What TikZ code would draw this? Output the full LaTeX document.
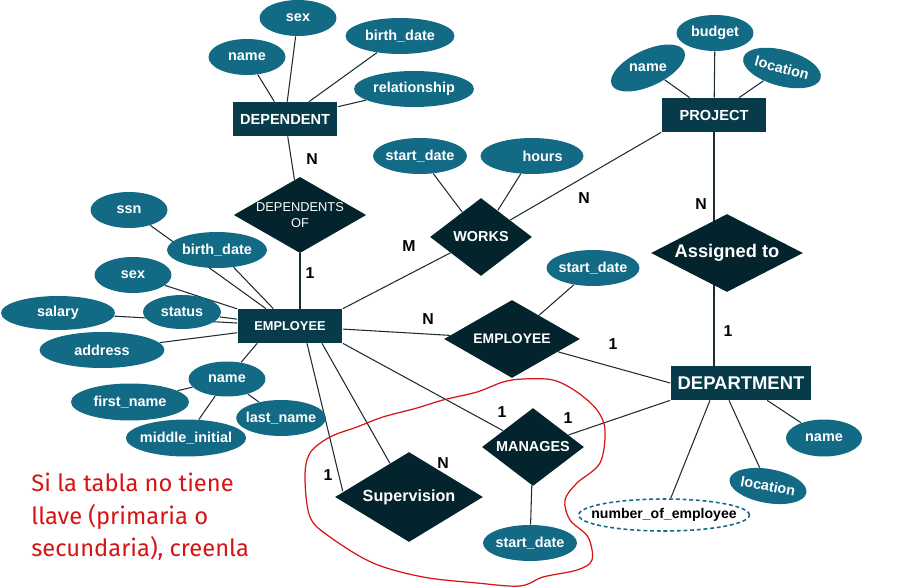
\documentclass[tikz,border=0pt]{standalone}
\usepackage{fontspec}
\setmainfont{Liberation Sans}
\newfontfamily\notefont{Fira Sans}
\usetikzlibrary{shapes.geometric,positioning,calc,backgrounds}
\definecolor{entteal}{RGB}{7,59,74}
\definecolor{reldark}{RGB}{3,36,45}
\definecolor{attrteal}{RGB}{19,106,133}
\definecolor{linegray}{RGB}{28,45,50}
\definecolor{notered}{RGB}{214,20,20}

\begin{document}
\begin{tikzpicture}[x=0.02cm, y=-0.02cm,
  entity/.style={rectangle, fill=entteal, text=white, font=\fontsize{8.3}{10}\selectfont\bfseries, minimum width=2.1cm, minimum height=0.68cm, inner sep=0pt},
  rel/.style={diamond, fill=reldark, text=white, font=\fontsize{8.2}{9}\selectfont\bfseries, inner sep=0pt, align=center},
  attr/.style={ellipse, fill=attrteal, text=white, font=\fontsize{8.2}{10}\selectfont\bfseries, inner xsep=-2pt, inner ysep=0pt, minimum width=1.54cm, minimum height=0.72cm},
  card/.style={font=\fontsize{9}{10}\selectfont\bfseries, inner sep=0pt},
  link/.style={draw=linegray, line width=0.6pt}
]
\useasboundingbox (0,0) rectangle (900,588);

% entities
\node[entity] (dep) at (285,119) {DEPENDENT};
\node[entity] (proj) at (714,115) {PROJECT};
\node[entity, font=\fontsize{7.3}{9}\selectfont\bfseries] (emp) at (290,326) {EMPLOYEE};
\node[entity, minimum width=2.82cm, font=\fontsize{10.5}{12}\selectfont\bfseries] (dept) at (741,383) {DEPARTMENT};

% relationships
\node[rel, minimum width=2.64cm, minimum height=1.52cm, aspect=1.74, font=\fontsize{7.3}{9.5}\selectfont] (depOf) at (300,215) {DEPENDENTS\\OF};
\node[rel, minimum width=2.04cm, minimum height=1.56cm, aspect=1.3] (works) at (481,237) {WORKS};
\node[rel, minimum width=2.72cm, minimum height=1.56cm, aspect=1.74, font=\fontsize{7.9}{9}\selectfont\bfseries] (empRel) at (512,339) {EMPLOYEE};
\node[rel, minimum width=3.04cm, minimum height=1.56cm, aspect=1.95, font=\fontsize{10.4}{12}\selectfont\bfseries] (assigned) at (727,253) {Assigned to};
\node[rel, minimum width=2.04cm, minimum height=1.56cm, aspect=1.3] (manages) at (533,447) {MANAGES};
\node[rel, minimum width=2.96cm, minimum height=1.8cm, aspect=1.64, font=\fontsize{9.2}{11}\selectfont\bfseries] (superv) at (409,497) {Supervision};

% attributes of DEPENDENT
\node[attr] (depName) at (247,57) {name};
\node[attr] (depSex) at (298,18) {sex};
\node[attr, minimum width=2.18cm] (depBirth) at (400,36) {birth\_date};
\node[attr, minimum width=2.4cm] (depRel) at (414,89) {relationship};

% attributes of PROJECT
\node[attr, minimum width=1.6cm, rotate=25] (projName) at (648,68) {\rotatebox{-25}{name}};
\node[attr] (projBudget) at (715,33) {budget};
\node[attr, minimum width=1.6cm, rotate=-15] (projLoc) at (782,68) {location};

% attributes of WORKS
\node[attr, minimum width=1.88cm] (worksStart) at (420,156) {start\_date};
\node[attr, minimum width=2.06cm] (worksHours) at (532,156) {\hspace*{12pt}hours};

% attributes of EMPLOYEE
\node[attr] (empSsn) at (129,210) {ssn};
\node[attr, minimum width=2cm] (empBirth) at (217,250) {birth\_date};
\node[attr] (empSex) at (133,275) {sex};
\node[attr, minimum width=2.28cm, minimum height=0.68cm] (empSalary) at (58,313) {salary};
\node[attr, minimum width=1.56cm, minimum height=0.68cm] (empStatus) at (182,312) {status};
\node[attr, minimum width=2.5cm] (empAddress) at (102,350) {address};
\node[attr, minimum height=0.7cm] (empName) at (227,379) {name};
\node[attr, minimum width=2.36cm, minimum height=0.74cm] (empFirst) at (130,402) {first\_name};
\node[attr, minimum width=2.32cm, minimum height=0.74cm] (empMiddle) at (186,438) {middle\_initial};
\node[attr, minimum width=1.78cm] (empLast) at (281,418) {last\_name};

% other attributes
\node[attr, minimum width=1.86cm] (relStart) at (593,268) {start\_date};
\node[attr, minimum width=1.52cm, minimum height=0.74cm] (deptName) at (824,438) {name};
\node[attr, minimum width=1.56cm, minimum height=0.68cm, rotate=-10] (deptLoc) at (768,486) {location};
\node[attr, minimum width=1.88cm] (manStart) at (530,543) {start\_date};
\node[attr, fill=none, draw=attrteal, dash pattern=on 2.2pt off 1.6pt, line width=0.9pt, text=black, inner xsep=-7pt, minimum height=0.64cm, font=\fontsize{8}{10}\selectfont\bfseries] (numEmp) at (664,515) {number\_of\_employee};

% cardinalities
\node[card] (cDepN) at (312,159) {N};
\node[card] (cDepOne) at (310,273) {1};
\node[card] (cWorksM) at (409,246) {M};
\node[card] (cWorksN) at (584,198) {N};
\node[card] (cAsgN) at (701,204) {N};
\node[card] (cAsgOne) at (728,331) {1};
\node[card] (cRelN) at (428,319) {N};
\node[card] (cRelOne) at (613,344) {1};
\node[card] (cManOne) at (502,412) {1};
\node[card] (cManTwo) at (568,418) {1};
\node[card] (cSupOne) at (328,475) {1};
\node[card] (cSupN) at (443,463) {N};

% note
\node[anchor=north west, align=left, inner sep=0pt, text=notered, font=\notefont\fontsize{13.5}{18.4}\selectfont] (note) at (31,473) {Si la tabla no tiene\\llave (primaria o\\secundaria), creenla};

\begin{scope}[on background layer]
\draw[link] (depName) -- (dep);
\draw[link] (depSex) -- (dep);
\draw[link] (depBirth) -- (dep);
\draw[link] (depRel) -- (dep);
\draw[link] (dep) -- (depOf);
\draw[link] (depOf) -- (depOf |- emp.north);

\draw[link] (projName) -- (proj);
\draw[link] (projBudget) -- (proj);
\draw[link] (projLoc) -- (proj);
\draw[link] (proj) -- (proj |- assigned);
\draw[link] (proj |- assigned) -- (proj |- dept.north);

\draw[link] (worksStart) -- (works);
\draw[link] (worksHours) -- (works);
\draw[link] (works) -- (proj.south west);
\draw[link] (emp.north east) -- (works);

\draw[link] (empSsn) -- (emp);
\draw[link] (empBirth) -- (emp);
\draw[link] (empSex) -- (emp);
\draw[link] (empSalary) -- (emp);
\draw[link] (empStatus) -- (emp);
\draw[link] (empAddress) -- (emp);
\draw[link] (empName) -- ($(emp.south west)+(20,0)$);
\draw[link] (empName) -- (empFirst);
\draw[link] (empName) -- (empMiddle);
\draw[link] (empName) -- (empLast);

\draw[link] (emp) -- (empRel);
\draw[link] (relStart) -- (empRel);
\draw[link] (empRel) -- (dept.west);

\draw[link] ($(emp.south)+(17,0)$) -- ($(superv.west)+(8,-6)$);
\draw[link] ($(emp.south)+(32,0)$) -- (superv);
\draw[link] (emp.south east) -- (manages);
\draw[link] (manages) -- (dept.south west);
\draw[link] (manages) -- (manStart);

\draw[link] (dept) -- (deptName);
\draw[link] ($(dept.south)+(-12,0)$) -- (deptLoc);
\draw[link] ($(dept.south)+(-31,0)$) -- (numEmp);
\end{scope}

% outline around the weak part
\draw[notered, line width=0.7pt] plot[smooth cycle, tension=0.55] coordinates {
  (523,379) (553,380) (577,392) (597,410) (605,430) (600,463) (577,483) (565,500)
  (570,520) (588,537) (592,560) (577,570) (543,577) (520,586) (477,583) (423,577)
  (373,563) (330,537) (310,517) (305,477) (310,453) (330,437) (357,427) (383,417)
  (417,408) (443,400) (477,392) (503,382)};
\end{tikzpicture}
\end{document}
